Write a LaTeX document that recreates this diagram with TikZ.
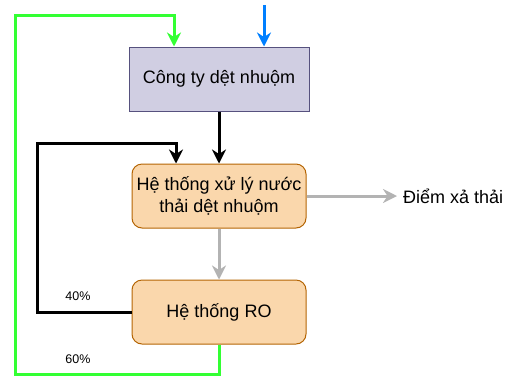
\documentclass[tikz,border=0pt]{standalone}
\usepackage{fontspec}
\setmainfont{Liberation Sans}
\usetikzlibrary{arrows.meta}
\definecolor{boxpurple}{HTML}{D0CEE2}
\definecolor{edgepurple}{HTML}{56517E}
\definecolor{boxorange}{HTML}{FAD7AC}
\definecolor{edgeorange}{HTML}{B46504}
\definecolor{flowgreen}{HTML}{33FF33}
\definecolor{flowblue}{HTML}{007FFF}
\definecolor{flowgray}{HTML}{B3B3B3}
\begin{document}
\begin{tikzpicture}[x=1pt,y=-1pt,
  every node/.style={font=\fontsize{18}{22}\selectfont},
  plantbox/.style={draw=edgepurple,fill=boxpurple,line width=1pt,
    minimum width=180pt,minimum height=64pt,inner sep=0pt},
  procbox/.style={draw=edgeorange,fill=boxorange,line width=1pt,rounded corners=10pt,
    minimum width=174pt,minimum height=64pt,inner sep=0pt,align=center},
  flow/.style={line width=3pt,-{Stealth[length=14pt,width=14pt,inset=4.5pt]}},
  pct/.style={font=\fontsize{12.5}{14}\selectfont,inner sep=0pt}]
\useasboundingbox (0,0) rectangle (516,376);

% process units
\node[plantbox] (top) at (219,79) {Công ty dệt nhuộm};
\node[procbox] (treat) at (219,196) {Hệ thống xử lý nước\\thải dệt nhuộm};
\node[procbox] (ro) at (219,312) {Hệ thống RO};
\node[anchor=west,inner xsep=6pt,inner ysep=0pt] (out) at (397,196) {Điểm xả thải};

% split labels
\node[pct] (p40) at (78,296) {40\%};
\node[pct] (p60) at (78,359) {60\%};

% routing points
\coordinate (blueIn) at (264,5);
\coordinate (gA) at (15,374);
\coordinate (gB) at (174,15);
\coordinate (bA) at (37,143);
\coordinate (bB) at (176,143);

% fresh water supply
\draw[flow,flowblue] (blueIn) -- (blueIn |- top.north);
% wastewater to treatment
\draw[flow,black] (top.south) -- (treat.north);
% treated water
\draw[flow,flowgray] (treat.south) -- (ro.north);
\draw[flow,flowgray] (treat.east) -- (out.west);
% RO concentrate back to treatment (40%)
\draw[flow,black] (ro.west) -| (bA) -- (bB) -- (bB |- treat.north);
% RO permeate reused in production (60%)
\draw[flow,flowgreen] (ro.south) |- (gA) |- (gB) -- (gB |- top.north);
\end{tikzpicture}
\end{document}
